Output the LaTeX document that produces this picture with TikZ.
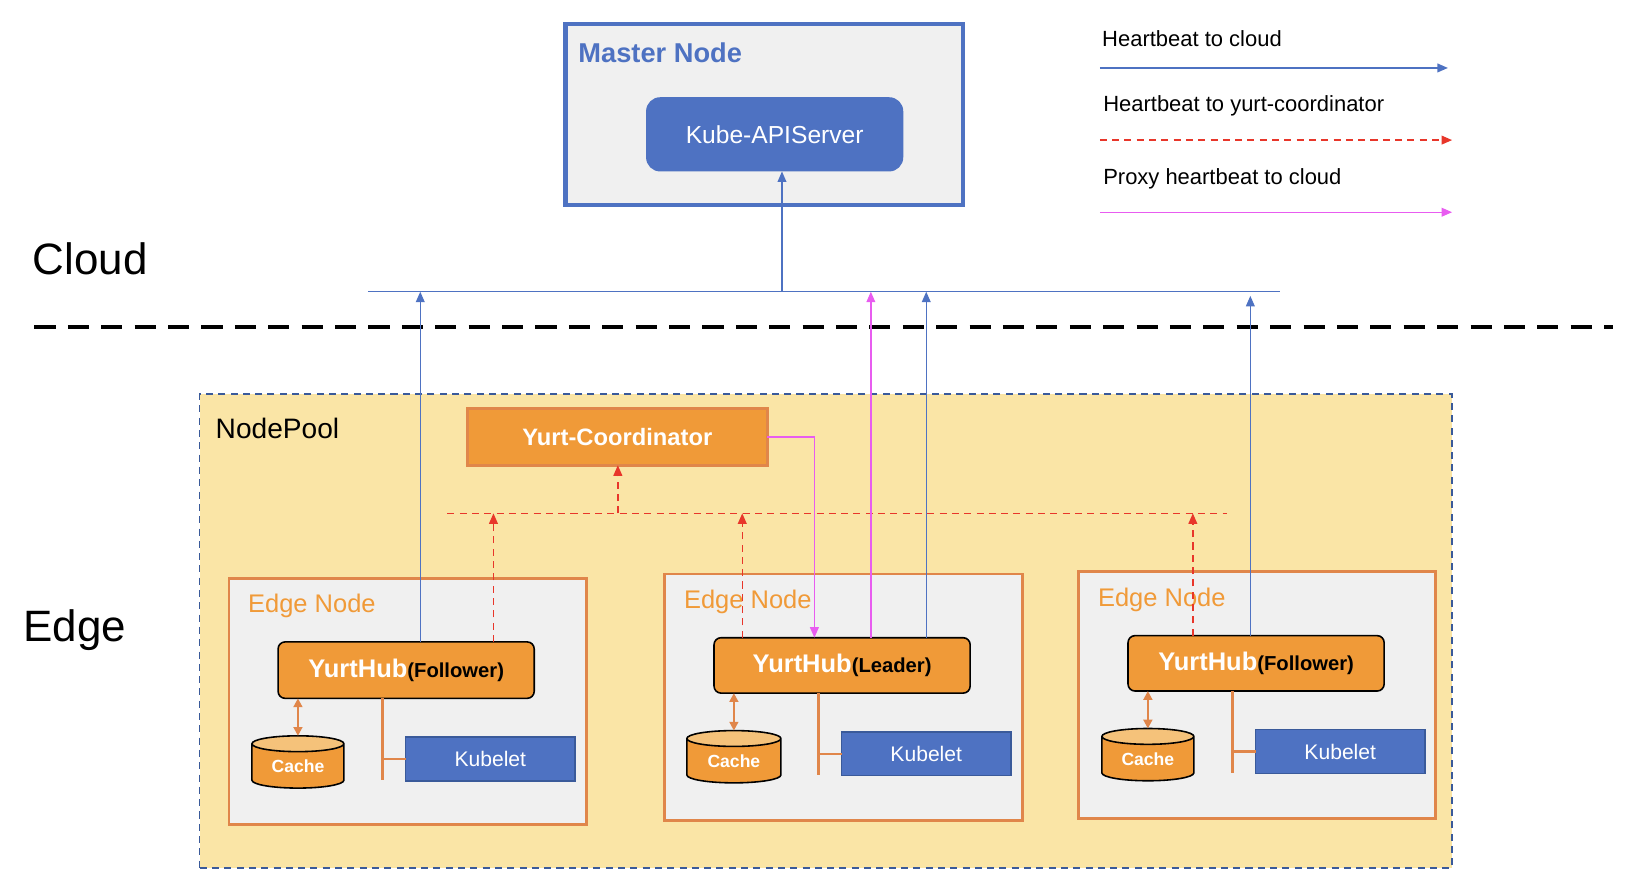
\documentclass[tikz,border=0pt]{standalone}
\usepackage{fontspec}
\setmainfont{Liberation Sans}
\usetikzlibrary{arrows.meta,shapes.geometric}
\definecolor{cblue}{HTML}{4E72C2}
\definecolor{dblue}{HTML}{3A5A9A}
\definecolor{corange}{HTML}{F09A38}
\definecolor{eorange}{HTML}{E0864A}
\definecolor{lorange}{HTML}{F5C27A}
\definecolor{pool}{HTML}{FAE5A6}
\definecolor{cgray}{HTML}{F0F0F0}
\definecolor{cred}{HTML}{E8362A}
\definecolor{cmag}{HTML}{E85CF0}
\def\pxu{0.0209cm}
\begin{document}
\begin{tikzpicture}[x=0.0209cm,y=-0.0209cm,
  bx/.style args={#1x#2}{minimum width={#1*\pxu},minimum height={#2*\pxu},inner sep=0pt,outer sep=0pt},
  edge/.style={draw=eorange,line width=1.6pt,fill=cgray,rectangle},
  hub/.style={draw=black,line width=0.9pt,fill=corange,rounded corners=4pt,text=white,font=\bfseries\fontsize{14.5}{16}\selectfont},
  kub/.style={draw=dblue,line width=0.8pt,fill=cblue,text=white,font=\fontsize{12}{14}\selectfont},
  cache/.style={cylinder,shape border rotate=90,aspect=0.3,draw=black,line width=0.9pt,cylinder uses custom fill,cylinder body fill=corange,cylinder end fill=lorange,text=white,font=\bfseries\fontsize{10}{12}\selectfont},
  bar/.style={cblue,line width=0.8pt,-{Triangle[length=6pt,width=5pt]}},
  rar/.style={cred,line width=0.8pt,dash pattern=on 4pt off 3pt,-{Triangle[length=6pt,width=5pt]}},
  mar/.style={cmag,line width=0.8pt,-{Triangle[length=6pt,width=5pt]}},
  ocon/.style={eorange,line width=1.4pt},
  lbl/.style={anchor=west,inner sep=0pt}]
\useasboundingbox (0,0) rectangle (1563,857);
% cloud part
\node[bx=380x173,draw=cblue,line width=2.6pt,fill=cgray] (master) at (731,109.5) {};
\node[lbl,text=cblue,font=\bfseries\fontsize{15.5}{18}\selectfont] (mtitle) at (553,50) {Master Node};
\node[bx=246x71,fill=cblue,rounded corners=8pt,text=white,font=\fontsize{14}{16}\selectfont] (api) at (741,128.5) {Kube-APIServer};
\node[lbl,font=\fontsize{25}{28}\selectfont] (cloud) at (31,248) {Cloud};
\node[lbl,font=\fontsize{25}{28}\selectfont] (edgelbl) at (22,603) {Edge};
\coordinate (dl) at (33,313); \coordinate (dr) at (1543,313);
\draw[line width=2pt,dash pattern=on 12pt off 7pt] (dl) -- (dr);
% legend
\node[lbl,font=\fontsize{12.5}{14}\selectfont] (l1) at (1054,37) {Heartbeat to cloud};
\node[lbl,font=\fontsize{12.5}{14}\selectfont] (l2) at (1055,101) {Heartbeat to yurt-coordinator};
\node[lbl,font=\fontsize{12.5}{14}\selectfont] (l3) at (1055,171) {Proxy heartbeat to cloud};
\coordinate (l1a) at (1052,65); \coordinate (l1b) at (1385,65);
\coordinate (l2a) at (1052,134); \coordinate (l2b) at (1389,134);
\coordinate (l3a) at (1052,203); \coordinate (l3b) at (1389,203);
\draw[bar] (l1a) -- (l1b);
\draw[rar] (l2a) -- (l2b);
\draw[mar] (l3a) -- (l3b);
% node pool
\node[bx=1198x453,draw=dblue,line width=0.9pt,dash pattern=on 4pt off 3pt,fill=pool] (pool) at (790,603.5) {};
\node[lbl,font=\fontsize{16}{18}\selectfont] (pooltxt) at (206,410) {NodePool};
\node[bx=287x54,draw=eorange,line width=1.6pt,fill=corange,text=white,font=\bfseries\fontsize{13.5}{16}\selectfont] (yc) at (590.5,418) {Yurt-Coordinator};
% edge nodes
\node[edge,bx=342x236] (e1) at (390,671) {};
\node[edge,bx=342x236] (e2) at (807,667) {};
\node[edge,bx=341x236] (e3) at (1202.5,665) {};
\node[lbl,text=corange,font=\fontsize{14.5}{16}\selectfont] (e1t) at (237,580) {Edge Node};
\node[lbl,text=corange,font=\fontsize{14.5}{16}\selectfont] (e2t) at (654,576) {Edge Node};
\node[lbl,text=corange,font=\fontsize{14.5}{16}\selectfont] (e3t) at (1050,574) {Edge Node};
\node[hub,bx=245x54] (h1) at (388.5,641) {YurtHub\textcolor{black}{\fontsize{11.5}{14}\selectfont(Follower)}};
\node[hub,bx=245x53] (h2) at (805.5,636.5) {YurtHub\textcolor{black}{\fontsize{11.5}{14}\selectfont(Leader)}};
\node[hub,bx=245x53] (h3) at (1201.5,634.5) {YurtHub\textcolor{black}{\fontsize{11.5}{14}\selectfont(Follower)}};
\node[kub,bx=162x42] (k1) at (469,726) {Kubelet};
\node[kub,bx=162x42] (k2) at (886,721) {Kubelet};
\node[kub,bx=162x42] (k3) at (1282,719) {Kubelet};
\node[cache,bx=88x50] (c1) at (285,733) {Cache};
\node[cache,bx=90x50] (c2) at (702,728) {Cache};
\node[cache,bx=88x50] (c3) at (1098,726) {Cache};
% hub-kubelet connectors
\coordinate (o1) at (366,746); \coordinate (o2) at (783,741); \coordinate (o3) at (1179,739);
\draw[ocon] (h1.south -| o1) -- (o1);
\draw[ocon] (o1 |- k1.west) -- (k1.west);
\draw[ocon] (h2.south -| o2) -- (o2);
\draw[ocon] (o2 |- k2.west) -- (k2.west);
\draw[ocon] (h3.south -| o3) -- (o3);
\draw[ocon] (o3 |- k3.west) -- (k3.west);
\draw[ocon,line width=1.2pt,{Triangle[length=5pt,width=5pt]}-{Triangle[length=5pt,width=5pt]}] (c1.north |- h1.south) -- (c1.north);
\draw[ocon,line width=1.2pt,{Triangle[length=5pt,width=5pt]}-{Triangle[length=5pt,width=5pt]}] (c2.north |- h2.south) -- (c2.north);
\draw[ocon,line width=1.2pt,{Triangle[length=5pt,width=5pt]}-{Triangle[length=5pt,width=5pt]}] (c3.north |- h3.south) -- (c3.north);
% bus to cloud
\coordinate (busL) at (352,279); \coordinate (busR) at (1224,279);
\coordinate (bm) at (748,279);
\draw[cblue,line width=0.8pt] (busL) -- (busR);
\draw[bar] (bm) -- (bm |- api.south);
\coordinate (b1) at (402,279); \coordinate (b2) at (886,279); \coordinate (b3) at (1196,283);
\draw[bar] (h1.north -| b1) -- (b1);
\draw[bar] (h2.north -| b2) -- (b2);
\draw[bar] (h3.north -| b3) -- (b3);
% heartbeat to coordinator
\coordinate (rL) at (428,491); \coordinate (rR) at (1174,491);
\draw[cred,line width=0.8pt,dash pattern=on 4pt off 3pt] (rL) -- (rR);
\coordinate (rc) at (591,491);
\draw[rar] (rc) -- (rc |- yc.south);
\coordinate (r1) at (472,491); \coordinate (r2) at (710,491); \coordinate (r3) at (1141,491);
\draw[rar] (h1.north -| r1) -- (r1);
\draw[rar] (h2.north -| r2) -- (r2);
\draw[rar] (h3.north -| r3) -- (r3);
% proxy
\coordinate (m1) at (779,421); \coordinate (m2) at (833,279);
\draw[mar] (yc.east) -| (h2.north -| m1);
\draw[mar] (h2.north -| m2) -- (m2);
\end{tikzpicture}
\end{document}
